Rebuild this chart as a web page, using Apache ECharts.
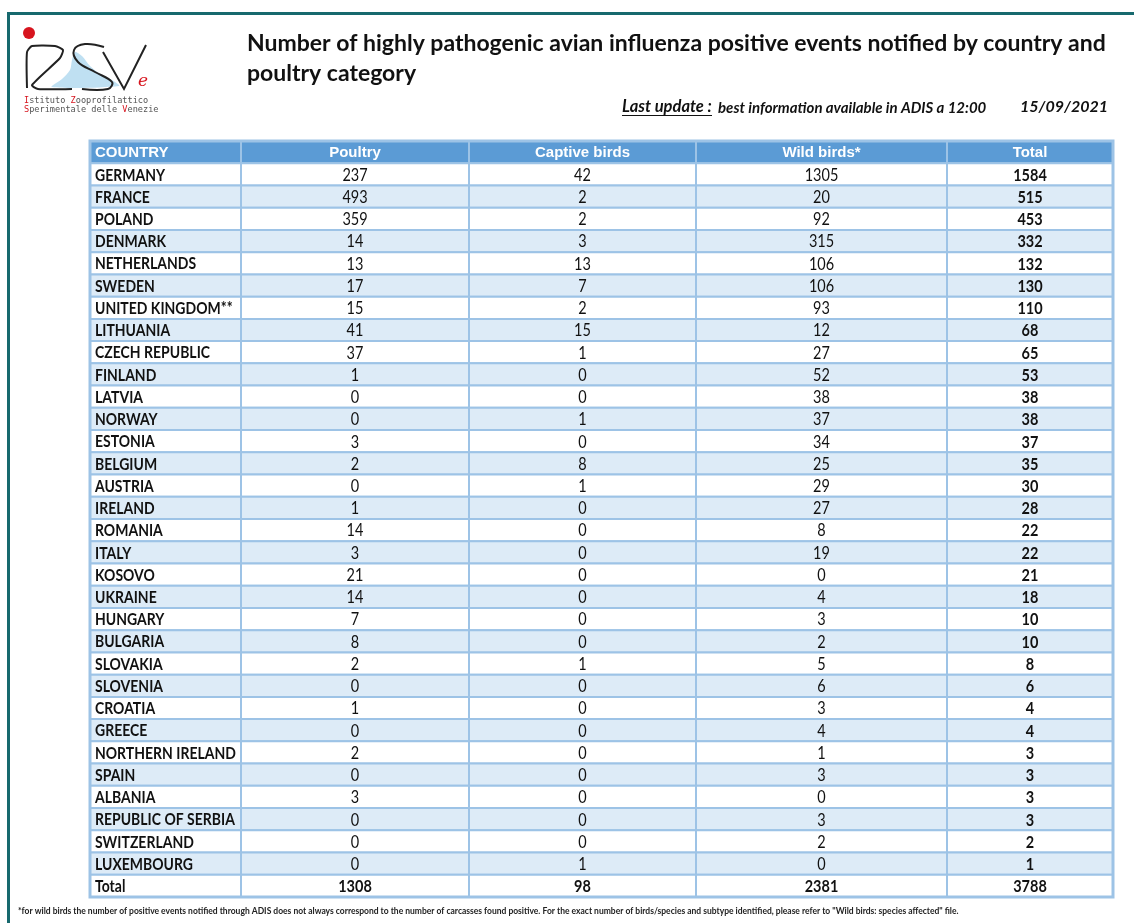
<!DOCTYPE html>
<html>
<head>
<meta charset="utf-8">
<script src="https://cdn.jsdelivr.net/npm/echarts@6/dist/echarts.min.js"></script>
<style>
  html, body { margin: 0; padding: 0; background: #fff; }
  #main { width: 1134px; height: 923px; }
</style>
</head>
<body>
<div id="main"></div>
<script>
// table data
var headers = ['COUNTRY', 'Poultry', 'Captive birds', 'Wild birds*', 'Total'];
var countries = ['GERMANY', 'FRANCE', 'POLAND', 'DENMARK', 'NETHERLANDS', 'SWEDEN', 'UNITED KINGDOM**',
  'LITHUANIA', 'CZECH REPUBLIC', 'FINLAND', 'LATVIA', 'NORWAY', 'ESTONIA', 'BELGIUM', 'AUSTRIA',
  'IRELAND', 'ROMANIA', 'ITALY', 'KOSOVO', 'UKRAINE', 'HUNGARY', 'BULGARIA', 'SLOVAKIA', 'SLOVENIA',
  'CROATIA', 'GREECE', 'NORTHERN IRELAND', 'SPAIN', 'ALBANIA', 'REPUBLIC OF SERBIA', 'SWITZERLAND',
  'LUXEMBOURG'];
var poultry = [237, 493, 359, 14, 13, 17, 15, 41, 37, 1, 0, 0, 3, 2, 0, 1, 14, 3, 21, 14, 7, 8, 2, 0, 1, 0, 2, 0, 3, 0, 0, 0];
var captive = [42, 2, 2, 3, 13, 7, 2, 15, 1, 0, 0, 1, 0, 8, 1, 0, 0, 0, 0, 0, 0, 0, 1, 0, 0, 0, 0, 0, 0, 0, 0, 1];
var wild = [1305, 20, 92, 315, 106, 106, 93, 12, 27, 52, 38, 37, 34, 25, 29, 27, 8, 19, 0, 4, 3, 2, 5, 6, 3, 4, 1, 3, 0, 3, 2, 0];
var total = [1584, 515, 453, 332, 132, 130, 110, 68, 65, 53, 38, 38, 37, 35, 30, 28, 22, 22, 21, 18, 10, 10, 8, 6, 4, 4, 3, 3, 3, 3, 2, 1];
var totalRow = ['Total', 1308, 98, 2381, 3788];

// column widths (layout only)
var colW = [151, 228, 227, 251, 166];
var colStart = [];
var acc = 0;
colW.forEach(function (w) { colStart.push(acc); acc += w; });

var rows = [headers];
countries.forEach(function (c, i) {
  rows.push([c, poultry[i], captive[i], wild[i], total[i]]);
});
rows.push(totalRow);

var cells = [];
rows.forEach(function (row, r) {
  row.forEach(function (v, c) { cells.push([c, r]); });
});

var RED = '#d7141e';

var myChart = echarts.init(document.getElementById('main'));
var option = {
  backgroundColor: '#fff',
  animation: false,
  grid: {
    left: 90, right: 21, top: 141, bottom: 26,
    show: true, borderColor: '#9dc3e6', borderWidth: 3, backgroundColor: 'transparent', z: 5
  },
  xAxis: { type: 'value', min: 0, max: acc, show: false },
  yAxis: {
    type: 'category', inverse: true, show: false,
    data: rows.map(function (r) { return r[0]; })
  },
  series: [{
    type: 'custom',
    data: cells,
    encode: { x: 0, y: 1 },
    renderItem: function (params, api) {
      var c = api.value(0), r = api.value(1);
      var p0 = api.coord([colStart[c], r]);
      var p1 = api.coord([colStart[c] + colW[c], r]);
      var h = api.size([0, 1])[1];
      var isHeader = r === 0;
      var isTotal = r === rows.length - 1;
      var fill = isHeader ? '#5b9bd5' : (!isTotal && r % 2 === 0 ? '#ddebf7' : '#ffffff');
      var bold = isHeader || isTotal || c === 0 || c === 4;
      var tx = c === 0 ? p0[0] + 5 : (p0[0] + p1[0]) / 2;
      var ty = p0[1] + 1;
      return {
        type: 'group',
        children: [{
          type: 'rect',
          shape: { x: p0[0], y: p0[1] - h / 2, width: p1[0] - p0[0], height: h },
          style: { fill: fill, stroke: '#9dc3e6', lineWidth: 2 }
        }, {
          type: 'text',
          x: tx, y: ty,
          scaleY: isHeader ? 1 : 1.15,
          style: {
            text: String(rows[r][c]),
            x: 0, y: 0,
            align: c === 0 ? 'left' : 'center',
            verticalAlign: 'middle',
            fontFamily: isHeader ? 'Liberation Sans' : 'Lato',
            fontSize: isHeader ? 15 : (c === 0 ? 14 : 14.5),
            fontWeight: bold ? 'bold' : 'normal',
            fill: isHeader ? '#ffffff' : '#111111'
          }
        }]
      };
    }
  }],
  graphic: [
    // frame
    { type: 'rect', shape: { x: 7, y: 12, width: 1127, height: 3 }, style: { fill: '#17696e' } },
    { type: 'rect', shape: { x: 7, y: 12, width: 3, height: 911 }, style: { fill: '#17696e' } },
    // logo
    { type: 'circle', shape: { cx: 29, cy: 33, r: 6 }, style: { fill: RED } },
    { type: 'polygon', shape: { points: [[75, 52], [82, 56], [90, 66], [100, 74], [112, 80], [119, 86], [52, 87], [62, 79], [70, 70], [72, 60]], smooth: 0.3 },
      style: { fill: '#bfe0f2' } },
    { type: 'polyline', shape: { points: [[27, 88], [27, 52], [32, 46], [55, 46], [63, 50], [60, 58], [32, 85], [38, 89], [72, 89]], smooth: 0.2 },
      style: { fill: null, stroke: '#222', lineWidth: 2 } },
    { type: 'polyline', shape: { points: [[104, 47], [85, 44], [74, 50], [78, 62], [95, 72], [112, 82], [108, 89], [82, 89]], smooth: 0.4 },
      style: { fill: null, stroke: '#222', lineWidth: 2 } },
    { type: 'polyline', shape: { points: [[103, 52], [124, 89], [146, 45]] },
      style: { fill: null, stroke: '#222', lineWidth: 2 } },
    { type: 'text', style: { text: 'e', x: 138, y: 90, verticalAlign: 'bottom', fontFamily: 'DejaVu Serif', fontStyle: 'italic', fontSize: 17, fill: RED } },
    { type: 'text', style: {
      text: '{r|I}stituto {r|Z}ooprofilattico\n{r|S}perimentale delle {r|V}enezie',
      x: 24, y: 96, fontFamily: 'DejaVu Sans Mono', fontSize: 8.6, lineHeight: 9, fill: '#555',
      rich: { r: { fill: RED, fontFamily: 'DejaVu Sans Mono', fontSize: 8.6 } }
    } },
    // titles
    { type: 'text', style: {
      text: 'Number of highly pathogenic avian influenza positive events notified by country and',
      x: 247, y: 44, verticalAlign: 'middle', fontFamily: 'Lato', fontWeight: 'bold', fontSize: 23, fill: '#111'
    } },
    { type: 'text', style: {
      text: 'poultry category',
      x: 247, y: 74, verticalAlign: 'middle', fontFamily: 'Lato', fontWeight: 'bold', fontSize: 23, fill: '#111'
    } },
    { type: 'text', style: {
      text: 'Last update :', x: 622, y: 107, verticalAlign: 'middle',
      fontFamily: 'Lato', fontStyle: 'italic', fontWeight: 'bold', fontSize: 16.5, fill: '#111'
    } },
    { type: 'rect', shape: { x: 622, y: 115, width: 90, height: 1 }, style: { fill: '#111' } },
    { type: 'text', style: {
      text: 'best information available in ADIS a 12:00', x: 718, y: 108, verticalAlign: 'middle',
      fontFamily: 'Lato', fontStyle: 'italic', fontWeight: 'bold', fontSize: 15, fill: '#111'
    } },
    { type: 'text', style: {
      text: '15/09/2021', x: 1108, y: 107, align: 'right', verticalAlign: 'middle',
      fontFamily: 'Lato', fontStyle: 'italic', fontWeight: 'bold', fontSize: 16, fill: '#111'
    } },
    // footnote
    { type: 'text', style: {
      text: '*for wild birds the number of positive events notified through ADIS does not always correspond to the number of carcasses found positive. For the exact number of birds/species and subtype identified, please refer to "Wild birds: species affected" file.',
      x: 18, y: 911, verticalAlign: 'middle', fontFamily: 'Lato', fontWeight: 'bold', fontSize: 8.5, fill: '#222'
    } }
  ]
};
myChart.setOption(option);
window.onresize = function () {
  myChart.resize();
};
</script>
</body>
</html>
